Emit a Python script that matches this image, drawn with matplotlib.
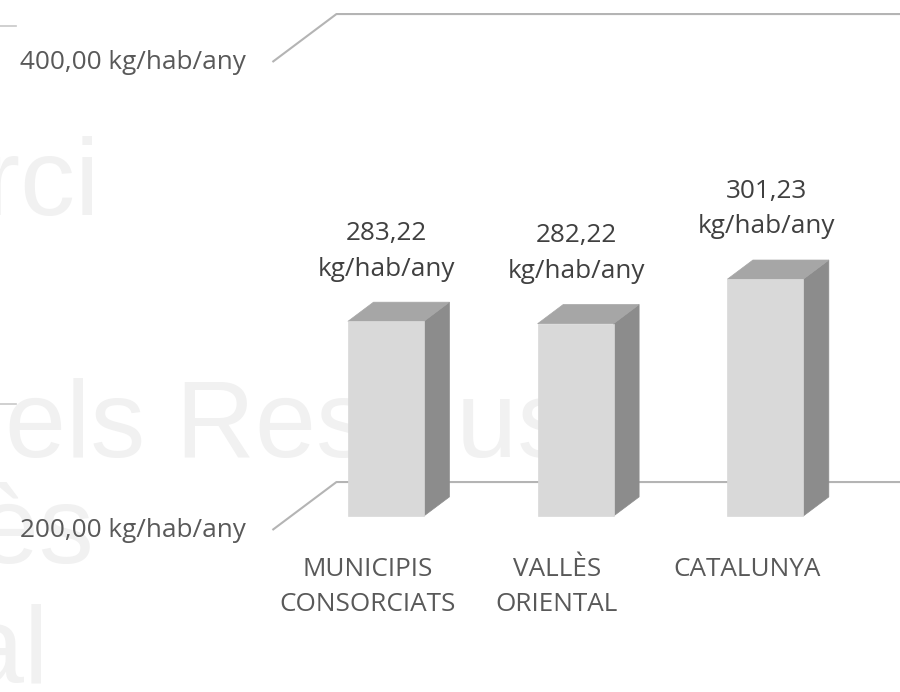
import matplotlib
matplotlib.use("Agg")
import matplotlib.pyplot as plt
from matplotlib.patches import Polygon

# ---- data ----
categories = ["MUNICIPIS\nCONSORCIATS", "VALLÈS\nORIENTAL", "CATALUNYA"]
values = [283.22, 282.22, 301.23]
value_labels = ["283,22\nkg/hab/any", "282,22\nkg/hab/any", "301,23\nkg/hab/any"]
y_ticks = [200, 400]
y_tick_labels = ["200,00 kg/hab/any", "400,00 kg/hab/any"]

# background watermark (logo text), mostly cut off by the left edge
watermark = ["Consorci", "dels Residus", "Vallès", "Oriental"]

W, H = 900, 692
FONT = "Open Sans"
FS = 18.8

# fake 3d: depth z in [0, 1] from the front edge of the floor to the back wall
DEPTH_DX = 0.3374   # category units for full depth
DEPTH_DY = 20.5     # value units for full depth
Z_FRONT, Z_BACK = 0.29, 0.69
BAR_W = 0.40


def proj(x, y, z):
    return x + z * DEPTH_DX, y + z * DEPTH_DY


fig = plt.figure(figsize=(W / 100, H / 100), dpi=100)
ax = fig.add_axes([0, 0, 1, 1])
ax.set_xlim(-1.936, 2.808)
ax.set_ylim(130.77, 426.5)
ax.axis("off")

# watermark, drawn behind everything in the axes
wm_pos = [(100, 215, "right"), (-56, 457, "left"), (94, 563, "right"), (49, 683, "right")]
for txt, (px, py, ha) in zip(watermark, wm_pos):
    ax.text(px / W, 1 - py / H, txt, transform=fig.transFigure, ha=ha,
            va="baseline", fontsize=79, family="Liberation Sans",
            color="#f1f1f1", zorder=0)

# stray short lines from the background image
for py in (26, 404):
    ax.plot([0, 16 / W], [1 - py / H, 1 - py / H], transform=fig.transFigure,
            color="#c8c8c8", lw=1.2, zorder=0.5)

# gridlines on the side wall and back wall
x_left, x_right = -0.5, len(categories) - 0.5
for v, lab in zip(y_ticks, y_tick_labels):
    p0 = proj(x_left, v, 0)
    p1 = proj(x_left, v, 1)
    p2 = proj(x_right, v, 1)
    ax.plot([p0[0], p1[0], p2[0]], [p0[1], p1[1], p2[1]],
            color="#b4b4b4", lw=1.5, zorder=1, solid_capstyle="butt")
    ax.annotate(lab, xy=p0, xytext=(-27, 0), textcoords="offset pixels",
                ha="right", va="center", fontsize=FS, family=FONT,
                color="#595959", zorder=5)

# bars
base = y_ticks[0]
for i, v in enumerate(values):
    x0, x1 = i - BAR_W / 2, i + BAR_W / 2
    front = [proj(x0, base, Z_FRONT), proj(x1, base, Z_FRONT),
             proj(x1, v, Z_FRONT), proj(x0, v, Z_FRONT)]
    side = [proj(x1, base, Z_FRONT), proj(x1, base, Z_BACK),
            proj(x1, v, Z_BACK), proj(x1, v, Z_FRONT)]
    top = [proj(x0, v, Z_FRONT), proj(x1, v, Z_FRONT),
           proj(x1, v, Z_BACK), proj(x0, v, Z_BACK)]
    for pts, col in ((side, "#8c8c8c"), (top, "#a6a6a6"), (front, "#d9d9d9")):
        ax.add_patch(Polygon(pts, closed=True, facecolor=col, edgecolor=col,
                             lw=0.5, zorder=3))

    # value label above the bar
    cx, cy = proj(i, v, Z_FRONT)
    ax.annotate(value_labels[i], xy=(cx, cy), xytext=(1, 70),
                textcoords="offset pixels", ha="center", va="center",
                fontsize=FS, family=FONT, color="#404040", linespacing=1.55,
                zorder=5)

# category labels at the front edge of the floor
for i, cat in enumerate(categories):
    cx, cy = proj(i, base, 0)
    ax.annotate(cat, xy=(cx, cy), xytext=(0, -27), textcoords="offset pixels",
                ha="center", va="top", fontsize=FS, family=FONT,
                color="#595959", linespacing=1.55, zorder=5)

fig.savefig("out.png", dpi=100, facecolor="white")
